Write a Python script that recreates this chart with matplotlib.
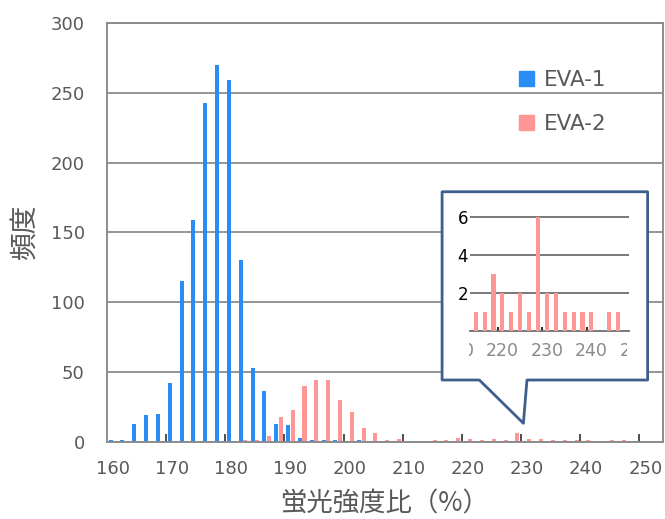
import matplotlib
matplotlib.use("Agg")
import matplotlib.pyplot as plt
import numpy as np
from matplotlib.patches import Patch, Polygon
from matplotlib.transforms import Bbox, TransformedBbox

plt.rcParams['font.family'] = ['DejaVu Sans', 'Noto Sans CJK JP']

# ---- data ----
categories = [160, 162, 164, 166, 168, 170, 172, 174, 176, 178,
              180, 182, 184, 186, 188, 190, 192, 194, 196, 198,
              200, 202, 204, 206, 208, 210, 212, 214, 216, 218,
              220, 222, 224, 226, 228, 230, 232, 234, 236, 238,
              240, 242, 244, 246, 248, 250, 252]
eva1 = [1, 1, 13, 19, 20, 42, 115, 159, 243, 270,
        259, 130, 53, 36, 13, 12, 3, 1, 1, 1,
        0, 1, 0, 0, 0, 0, 0, 0, 0, 0,
        0, 0, 0, 0, 0, 0, 0, 0, 0, 0,
        0, 0, 0, 0, 0, 0, 0]
eva2 = [0, 0, 0, 0, 0, 0, 0, 0, 0, 0,
        0, 1, 1, 4, 18, 23, 40, 44, 44, 30,
        21, 10, 6, 1, 2, 0, 0, 1, 1, 3,
        2, 1, 2, 1, 6, 2, 2, 1, 1, 1,
        1, 0, 1, 1, 0, 0, 0]
xtick_labels = [160, 170, 180, 190, 200, 210, 220, 230, 240, 250]
yticks = [0, 50, 100, 150, 200, 250, 300]
inset_xticks = [210, 220, 230, 240, 250]
inset_yticks = [2, 4, 6]
series_names = ['EVA-1', 'EVA-2']

blue = '#2A8DF5'
pink = '#FF9696'
grid_c = '#8C8C8C'
text_c = '#595959'
callout_c = '#3E5E8E'

W, H = 665, 519
fig = plt.figure(figsize=(W / 100, H / 100), dpi=100)
ax = fig.add_axes([107 / W, 77.3 / H, 556 / W, 418.7 / H])

x = np.array(categories, dtype=float)
ax.bar(x - 0.39, eva1, width=0.68, color=blue, linewidth=0, zorder=2)
ax.bar(x + 0.39, eva2, width=0.68, color=pink, linewidth=0, zorder=2)

ax.set_yticks(yticks)
ax.set_xticks(xtick_labels)
ax.set_xticklabels([str(v) for v in xtick_labels])
ax.set_xticks([v - 1 for v in xtick_labels[1:]], minor=True)
ax.set_xlim(159, 253)
ax.set_ylim(0, 300)
ax.tick_params(axis='x', which='major', length=0, pad=13.5, labelsize=13, labelcolor=text_c)
ax.tick_params(axis='x', which='minor', direction='in', length=6, width=1.3, color='#404040')
ax.tick_params(axis='y', length=0, pad=16, labelsize=13, labelcolor=text_c)
ax.yaxis.grid(True, color=grid_c, linewidth=1.3, zorder=1)
ax.set_axisbelow(True)
for s in ax.spines.values():
    s.set_color(grid_c)
    s.set_linewidth(1.4)

ax.set_ylabel('頻度', family=['Noto Sans CJK JP'], fontsize=20, color=text_c, labelpad=7)
ax.set_xlabel('蛍光強度比（%）', family=['Noto Sans CJK JP'], fontsize=19, color=text_c, labelpad=8.5)

handles = [Patch(color=blue, label=series_names[0]), Patch(color=pink, label=series_names[1])]
ax.legend(handles=handles, loc='upper left', bbox_to_anchor=(0.741, 0.887), frameon=False,
          fontsize=15.5, handlelength=0.7, handleheight=0.7, handletextpad=0.45,
          labelspacing=1.12, borderpad=0, borderaxespad=0, labelcolor=text_c)

# callout box (in data coordinates of the main axes)
callout = Polygon([(215.65, 179.1), (250.4, 179.1), (250.4, 44.2), (230.0, 44.2),
                   (229.4, 13.2), (221.95, 44.2), (215.65, 44.2)], closed=True,
                  facecolor='white', edgecolor=callout_c, linewidth=2, zorder=4,
                  clip_on=False, joinstyle='round')
ax.add_patch(callout)

# inset axes (zoom of EVA-2 tail)
in_bottom = (H - 330.7) / H
in_height = 6.3 * 19 / H
ax_in = fig.add_axes([470 / W, in_bottom, 159.3 / W, in_height])
ax_in.patch.set_alpha(0)
ax_in.bar(x, eva2, width=0.92, color=pink, linewidth=0, zorder=3)
ax_in.set_yticks(inset_yticks)
ax_in.set_xticks([219, 229, 239], minor=True)
ax_in.set_xticks([])
ax_in.set_xlim(212.72, 248.52)
ax_in.set_ylim(0, 6.3)
ax_in.tick_params(axis='y', length=0, pad=1.5, labelsize=12, labelcolor='black')
ax_in.tick_params(axis='x', which='minor', direction='in', length=3, width=1.5, color='#303030')
ax_in.yaxis.grid(True, color='#6E6E6E', linewidth=1.3, zorder=1)
ax_in.set_axisbelow(True)
for k in ['left', 'right', 'top']:
    ax_in.spines[k].set_visible(False)
ax_in.spines['bottom'].set_color('#6E6E6E')
ax_in.spines['bottom'].set_linewidth(1.3)

# x labels of the inset (cropped like the original picture)
px_per_unit = 159.3 / (248.52 - 212.72)
lab_left = 470 + (209 - 212.72) * px_per_unit
lab_right = 470 + (251 - 212.72) * px_per_unit
ax_lab = fig.add_axes([lab_left / W, in_bottom, (lab_right - lab_left) / W, in_height])
ax_lab.patch.set_alpha(0)
ax_lab.set_xticks(inset_xticks)
ax_lab.set_xlim(209, 251)
ax_lab.set_yticks([])
for s in ax_lab.spines.values():
    s.set_visible(False)
ax_lab.tick_params(axis='x', length=0, pad=8, labelsize=12.5, labelcolor='#8A8A8A')
clipbb = TransformedBbox(Bbox.from_extents(469 / W, 0, 627 / W, 1), fig.transFigure)
for t in ax_lab.xaxis.get_major_ticks():
    t.label1.set_clip_on(True)
    t.label1.set_clip_box(clipbb)

fig.savefig('out.png', dpi=100)
